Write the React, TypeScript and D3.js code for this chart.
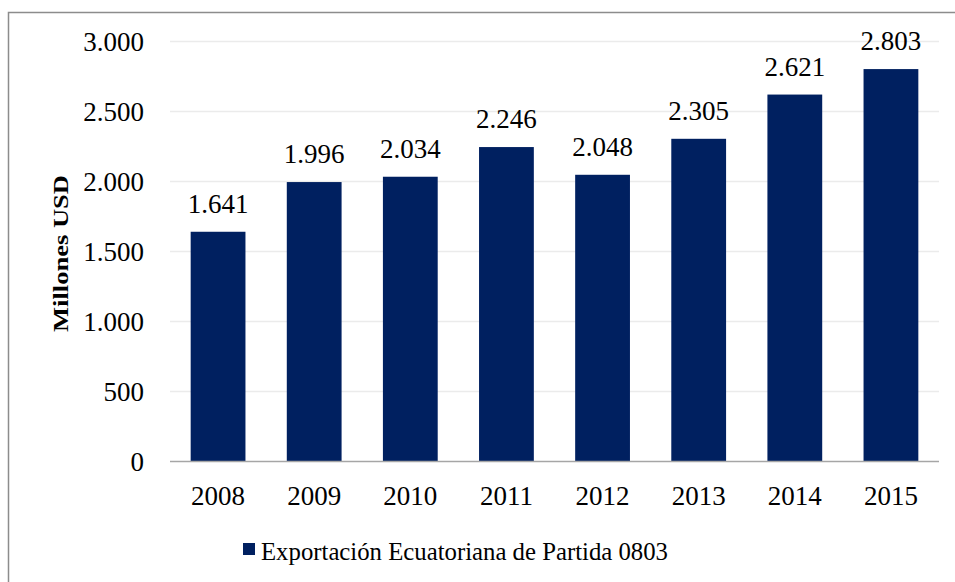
import React, { useRef, useEffect } from "react";
import * as d3 from "d3";

const years = ["2008", "2009", "2010", "2011", "2012", "2013", "2014", "2015"];
const exportValues = [1641, 1996, 2034, 2246, 2048, 2305, 2621, 2803];
const yTicks = [0, 500, 1000, 1500, 2000, 2500, 3000];
const seriesName = "Exportación Ecuatoriana de Partida 0803";
const yTitle = "Millones USD";

const fmt = (v: number) => d3.format(",")(v).replace(/,/g, ".");

const App = () => {
  const svgRef = useRef<SVGSVGElement>(null);

  useEffect(() => {
    const width = 955;
    const height = 582;
    const left = 170, right = 939, top = 41.5, bottom = 461.5;
    const font = "'Liberation Serif', serif";

    const svg = d3.select(svgRef.current);
    svg.selectAll("*").remove();

    svg.append("rect")
      .attr("width", width).attr("height", height).attr("fill", "#fff");

    // outer frame (only top and left visible)
    svg.append("rect")
      .attr("x", 8.5).attr("y", 12.5)
      .attr("width", width + 20).attr("height", height + 20)
      .attr("fill", "none").attr("stroke", "#8c8c8c").attr("stroke-width", 1.5);

    const x = d3.scaleBand().domain(years).range([left, right]).paddingInner(0.43).paddingOuter(0.215);
    const y = d3.scaleLinear().domain([0, 3000]).range([bottom, top]);

    // grid
    svg.append("g").selectAll("line")
      .data(yTicks.filter(t => t > 0))
      .enter().append("line")
      .attr("x1", left).attr("x2", right)
      .attr("y1", d => y(d)).attr("y2", d => y(d))
      .attr("stroke", "#ebebeb").attr("stroke-width", 1.5);

    // y tick labels
    svg.append("g").selectAll("text")
      .data(yTicks)
      .enter().append("text")
      .attr("x", 144).attr("y", d => y(d)).attr("dy", "0.36em")
      .attr("text-anchor", "end")
      .attr("font-family", font).attr("font-size", 27).attr("fill", "#000")
      .text(d => fmt(d));

    // bars
    svg.append("g").selectAll("rect")
      .data(exportValues)
      .enter().append("rect")
      .attr("x", (d, i) => x(years[i]) as number)
      .attr("width", x.bandwidth())
      .attr("y", d => y(d))
      .attr("height", d => y(0) - y(d))
      .attr("fill", "#002060");

    // baseline
    svg.append("line")
      .attr("x1", left).attr("x2", right)
      .attr("y1", y(0)).attr("y2", y(0))
      .attr("stroke", "#a6a6a6").attr("stroke-width", 1.5);

    // data labels
    svg.append("g").selectAll("text")
      .data(exportValues)
      .enter().append("text")
      .attr("x", (d, i) => (x(years[i]) as number) + x.bandwidth() / 2)
      .attr("y", d => y(d) - 19)
      .attr("text-anchor", "middle")
      .attr("font-family", font).attr("font-size", 27).attr("fill", "#000")
      .text(d => fmt(d));

    // x tick labels
    svg.append("g").selectAll("text")
      .data(years)
      .enter().append("text")
      .attr("x", d => (x(d) as number) + x.bandwidth() / 2)
      .attr("y", 505)
      .attr("text-anchor", "middle")
      .attr("font-family", font).attr("font-size", 27).attr("fill", "#000")
      .text(d => d);

    // y axis title
    svg.append("text")
      .attr("transform", "translate(68,253.5) rotate(-90)")
      .attr("text-anchor", "middle")
      .attr("font-family", font).attr("font-size", 21).attr("font-weight", "bold")
      .attr("fill", "#000")
      .attr("textLength", 157).attr("lengthAdjust", "spacingAndGlyphs")
      .text(yTitle);

    // legend
    const lg = svg.append("g");
    lg.append("rect")
      .attr("x", 243).attr("y", 543).attr("width", 12).attr("height", 12)
      .attr("fill", "#002060");
    lg.append("text")
      .attr("x", 261).attr("y", 560)
      .attr("font-family", font).attr("font-size", 26).attr("fill", "#000")
      .attr("textLength", 407).attr("lengthAdjust", "spacingAndGlyphs")
      .text(seriesName);
  }, []);

  return (
    <svg
      ref={svgRef}
      width={955}
      height={582}
      style={{ position: "absolute", left: 0, top: 0, display: "block" }}
    />
  );
};

export default App;
